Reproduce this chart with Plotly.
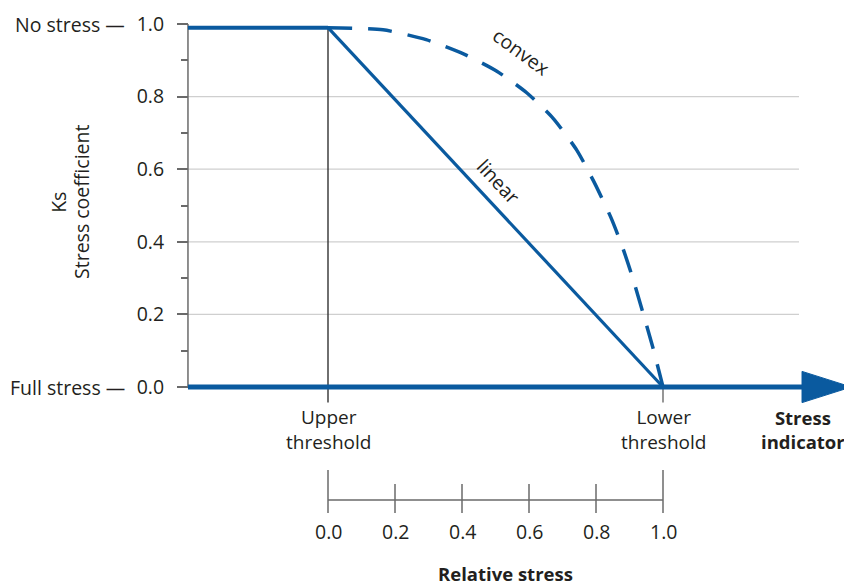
import plotly.graph_objects as go

# ---------------- data ----------------
ks_ticks = [0.0, 0.2, 0.4, 0.6, 0.8, 1.0]
ks_tick_labels = ["0.0", "0.2", "0.4", "0.6", "0.8", "1.0"]
ks_minor_ticks = [0.1, 0.3, 0.5, 0.7, 0.9]
grid_levels = [0.2, 0.4, 0.6, 0.8]

rel_ticks = [0.0, 0.2, 0.4, 0.6, 0.8, 1.0]
rel_tick_labels = ["0.0", "0.2", "0.4", "0.6", "0.8", "1.0"]

plateau_ks = 0.99
linear_x = [0.0, 1.0]
linear_y = [0.99, 0.0]

convex_x = [0.0, 0.164, 0.293, 0.406, 0.504, 0.594, 0.672, 0.743, 0.794, 0.845, 0.878, 0.907, 0.940, 0.970, 1.0]
convex_y = [0.99, 0.984, 0.957, 0.917, 0.870, 0.810, 0.740, 0.652, 0.565, 0.466, 0.388, 0.308, 0.205, 0.108, 0.0]

upper_threshold = 0.0
lower_threshold = 1.0

# ---------------- layout constants ----------------
W, H = 844, 580            # page adds an 8px body margin
X_RANGE = [-0.95522, 1.56418]
Y_RANGE = [-0.55372, 1.04408]
AXIS_X = -0.418
GRID_END = 1.406
ARROW_START = 1.415
ARROW_TIP = 1.562
ARROW_HALF = 0.043
TICK_BELOW = -0.043
SCALE_Y = -0.3113
SCALE_END_TOP = -0.2287
SCALE_IN_TOP = -0.2672
SCALE_BOTTOM = -0.3471

BLUE = "#0a5a9f"
GRAY = "#6a6a6a"
TXT = "#231f20"
FONT = "Open Sans"
FS = 19.5
FSB = 18.5

fig = go.Figure()

def line(xs, ys, color, width, dash=None):
    fig.add_trace(go.Scatter(x=xs, y=ys, mode="lines", hoverinfo="skip",
                             line=dict(color=color, width=width, dash=dash),
                             showlegend=False))

# gridlines
for g in grid_levels:
    line([AXIS_X, GRID_END], [g, g], "#cfcfcf", 1.2)

# y axis line
line([AXIS_X, AXIS_X], [0, 1], GRAY, 1.5)

# threshold vertical lines
line([upper_threshold, upper_threshold], [plateau_ks, TICK_BELOW], "#333333", 1.4)
line([lower_threshold, lower_threshold], [0, TICK_BELOW], GRAY, 1.4)

# plateau
line([AXIS_X, upper_threshold], [plateau_ks, plateau_ks], BLUE, 4)
# convex (dashed)
fig.add_trace(go.Scatter(x=convex_x, y=convex_y, mode="lines", hoverinfo="skip",
                         line=dict(color=BLUE, width=3.5, dash="24px,16px", shape="spline", smoothing=0.6),
                         showlegend=False))
# linear
line(linear_x, linear_y, BLUE, 3.2)
# baseline
line([AXIS_X, ARROW_START + 0.01], [0, 0], BLUE, 5)
# arrow head
fig.add_trace(go.Scatter(x=[ARROW_START, ARROW_TIP, ARROW_START, ARROW_START],
                         y=[ARROW_HALF, 0, -ARROW_HALF, ARROW_HALF],
                         mode="lines", fill="toself", fillcolor=BLUE,
                         line=dict(color=BLUE, width=1), hoverinfo="skip", showlegend=False))

# relative stress scale
line([rel_ticks[0], rel_ticks[-1]], [SCALE_Y, SCALE_Y], GRAY, 1.5)
for i, t in enumerate(rel_ticks):
    top = SCALE_END_TOP if i in (0, len(rel_ticks) - 1) else SCALE_IN_TOP
    line([t, t], [top, SCALE_BOTTOM], GRAY, 1.5)


def txt(x, y, s, size=FS, **kw):
    d = dict(x=x, y=y, text=s, showarrow=False, xanchor="center", yanchor="middle",
             font=dict(size=size, color=TXT, family=FONT))
    d.update(kw)
    return d

ann = []
for t, lab in zip(rel_ticks, rel_tick_labels):
    ann.append(txt(t, -0.3994, lab))
ann.append(txt(0.53, -0.515, "<b>Relative stress</b>", FSB))
LABEL_Y = -0.118
ann.append(txt(upper_threshold, LABEL_Y, "Upper<br>threshold", 19))
ann.append(txt(lower_threshold, LABEL_Y, "Lower<br>threshold", 19))
ann.append(txt(1.418, LABEL_Y, "<b>Stress<br>indicator</b>", FSB))
ann.append(txt(-0.6, 1.0, "No stress —", xanchor="right"))
ann.append(txt(-0.6, 0.0, "Full stress —", xanchor="right"))
ann.append(txt(-0.803, 0.51, "Ks", textangle=-90))
ann.append(txt(-0.734, 0.51, "Stress coefficient", textangle=-90))
ann.append(txt(0.576, 0.923, "convex", textangle=36))
ann.append(txt(0.510, 0.567, "linear", textangle=47))

fig.update_layout(
    width=W, height=H,
    margin=dict(l=0, r=0, t=0, b=0),
    paper_bgcolor="white", plot_bgcolor="white",
    font=dict(family=FONT, size=FS, color=TXT),
    xaxis=dict(range=X_RANGE, visible=False, fixedrange=True),
    yaxis=dict(range=Y_RANGE, anchor="free", position=(AXIS_X - X_RANGE[0]) / (X_RANGE[1] - X_RANGE[0]),
               showgrid=False, zeroline=False, showline=False,
               tickmode="array", tickvals=ks_ticks, ticktext=ks_tick_labels,
               ticks="outside", ticklen=11, tickwidth=1.5, tickcolor=GRAY,
               ticklabelstandoff=9,
               tickfont=dict(size=FS, color=TXT, family=FONT),
               minor=dict(tickmode="array", tickvals=ks_minor_ticks, ticks="outside",
                          ticklen=7, tickwidth=1.5, tickcolor=GRAY, showgrid=False),
               fixedrange=True),
    annotations=ann,
    showlegend=False,
)

fig.write_html("out.html")
